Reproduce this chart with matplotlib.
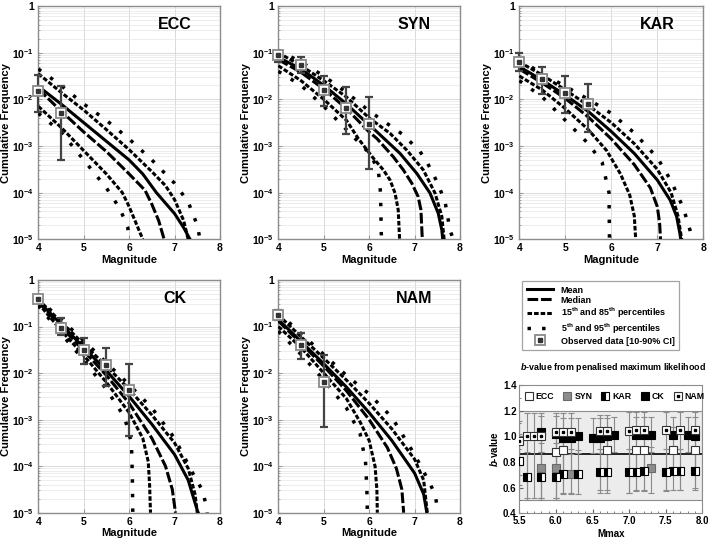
import matplotlib
matplotlib.use('Agg')
import matplotlib.pyplot as plt
from matplotlib.lines import Line2D
from matplotlib.ticker import NullFormatter, MultipleLocator
import numpy as np

plt.rcParams['font.family'] = ['Liberation Sans', 'DejaVu Sans']
plt.rcParams['font.weight'] = 'bold'
plt.rcParams['axes.labelweight'] = 'bold'
plt.rcParams['mathtext.fontset'] = 'custom'
plt.rcParams['mathtext.rm'] = 'Liberation Sans:bold'
plt.rcParams['mathtext.it'] = 'Liberation Sans:italic:bold'
plt.rcParams['mathtext.bf'] = 'Liberation Sans:bold'
plt.rcParams['mathtext.default'] = 'rm'

# curves: (magnitude, log10 cumulative frequency)
ECC_MEAN = [(4.0, -1.72), (4.5, -2.1), (5.0, -2.5), (5.5, -2.9), (6.0, -3.3), (6.3, -3.6),
            (6.6, -4.0), (7.0, -4.45), (7.2, -4.75), (7.34, -5.0)]
ECC_MEDIAN = [(4.0, -1.78), (4.5, -2.25), (5.0, -2.7), (5.5, -3.12), (6.0, -3.6), (6.35, -3.95),
              (6.5, -4.25), (6.65, -4.6), (6.77, -5.0)]
ECC_P15 = [(4.0, -2.15), (4.5, -2.6), (5.0, -3.1), (5.5, -3.6), (5.85, -4.0), (6.0, -4.3),
           (6.15, -4.65), (6.3, -5.0)]
ECC_P85 = [(4.0, -1.45), (4.5, -1.85), (5.0, -2.23), (5.5, -2.65), (6.0, -3.08), (6.5, -3.55),
           (6.8, -3.85), (7.0, -4.15), (7.2, -4.6), (7.3, -5.0)]
ECC_P5 = [(4.0, -2.3), (4.5, -2.7), (5.0, -3.3), (5.5, -3.9), (5.8, -4.35), (5.97, -4.75), (6.0, -5.0)]
ECC_P95 = [(4.0, -1.35), (4.5, -1.7), (5.0, -2.1), (5.5, -2.45), (6.0, -2.85), (6.5, -3.3),
           (7.0, -3.8), (7.3, -4.2), (7.5, -4.7), (7.56, -5.0)]

SYN_MEAN = [(4.0, -1.1), (4.5, -1.35), (5.0, -1.7), (5.5, -2.1), (6.0, -2.55), (6.13, -2.66),
            (6.68, -3.16), (7.05, -3.59), (7.34, -4.01), (7.52, -4.44), (7.6, -4.8), (7.62, -5.0)]
SYN_MEDIAN = [(4.0, -1.15), (4.5, -1.42), (5.0, -1.78), (5.5, -2.2), (6.0, -2.7), (6.17, -2.84),
              (6.53, -3.23), (6.75, -3.51), (6.94, -3.8), (7.08, -4.09), (7.14, -4.37), (7.17, -5.0)]
SYN_P15 = [(4.0, -1.28), (4.5, -1.6), (5.0, -2.0), (5.5, -2.45), (5.76, -2.84), (6.09, -3.26),
           (6.31, -3.51), (6.46, -3.73), (6.57, -4.01), (6.64, -4.37), (6.67, -5.0)]
SYN_P85 = [(4.0, -1.0), (4.5, -1.28), (5.0, -1.6), (5.5, -1.95), (6.0, -2.4), (6.46, -2.73),
           (6.83, -3.09), (7.19, -3.51), (7.45, -4.01), (7.6, -4.51), (7.65, -5.0)]
SYN_P5 = [(4.0, -1.4), (4.5, -1.7), (5.0, -2.15), (5.5, -2.65), (6.0, -3.15), (6.2, -3.5),
          (6.25, -4.0), (6.27, -5.0)]
SYN_P95 = [(4.0, -0.95), (4.5, -1.2), (5.0, -1.5), (5.5, -1.85), (6.0, -2.25), (6.75, -2.76),
           (7.12, -3.12), (7.27, -3.34), (7.49, -3.76), (7.67, -4.19), (7.78, -4.8), (7.85, -5.0)]

KAR_MEAN = [(4.0, -1.3), (4.5, -1.59), (5.0, -1.91), (5.5, -2.26), (6.0, -2.69), (6.5, -3.16),
            (7.0, -3.73), (7.28, -4.16), (7.42, -4.51), (7.49, -4.87), (7.51, -5.0)]
KAR_MEDIAN = [(4.0, -1.35), (4.5, -1.65), (5.0, -1.98), (5.5, -2.38), (6.0, -2.85), (6.5, -3.4),
              (6.85, -3.9), (7.0, -4.3), (7.05, -4.65), (7.07, -5.0)]
KAR_P15 = [(4.0, -1.5), (4.5, -1.8), (5.0, -2.2), (5.5, -2.65), (5.9, -3.1), (6.2, -3.6),
           (6.4, -4.05), (6.5, -4.5), (6.53, -5.0)]
KAR_P85 = [(4.0, -1.2), (4.5, -1.48), (5.0, -1.8), (5.5, -2.13), (6.0, -2.5), (6.5, -2.95),
           (7.0, -3.5), (7.3, -4.0), (7.45, -4.5), (7.53, -5.0)]
KAR_P5 = [(4.0, -1.6), (4.5, -1.95), (5.0, -2.45), (5.5, -2.95), (5.8, -3.35), (5.95, -4.0), (5.96, -5.0)]
KAR_P95 = [(4.0, -1.15), (4.5, -1.45), (5.0, -1.72), (5.5, -2.0), (6.0, -2.3), (6.5, -2.72),
           (7.0, -3.25), (7.3, -3.75), (7.57, -4.34), (7.71, -4.8), (7.75, -5.0)]

CK_MEAN = [(4.0, -0.45), (4.5, -0.95), (5.0, -1.45), (5.5, -1.95), (6.0, -2.5), (6.5, -3.1),
           (7.0, -3.75), (7.3, -4.3), (7.5, -4.95), (7.52, -5.0)]
CK_MEDIAN = [(4.0, -0.47), (4.5, -1.0), (5.0, -1.52), (5.5, -2.05), (6.0, -2.65), (6.5, -3.4),
             (6.8, -4.0), (6.95, -4.5), (7.02, -5.0)]
CK_P15 = [(4.0, -0.5), (4.5, -1.08), (5.0, -1.62), (5.5, -2.2), (6.0, -2.85), (6.3, -3.4),
          (6.42, -3.9), (6.45, -4.4), (6.47, -5.0)]
CK_P85 = [(4.0, -0.42), (4.5, -0.9), (5.0, -1.38), (5.5, -1.85), (6.0, -2.35), (6.5, -2.9),
          (7.0, -3.5), (7.3, -4.05), (7.45, -4.6), (7.5, -5.0)]
CK_P5 = [(4.0, -0.55), (4.5, -1.15), (5.0, -1.72), (5.5, -2.35), (5.9, -2.95), (6.05, -3.5),
         (6.07, -4.2), (6.08, -5.0)]
CK_P95 = [(4.0, -0.4), (4.5, -0.85), (5.0, -1.3), (5.5, -1.78), (6.0, -2.25), (6.5, -2.75),
          (7.0, -3.4), (7.4, -4.15), (7.63, -4.55), (7.72, -5.0)]

NAM_MEAN = [(4.0, -0.85), (4.5, -1.32), (5.0, -1.8), (5.5, -2.3), (6.0, -2.85), (6.5, -3.45),
            (7.0, -4.15), (7.2, -4.6), (7.27, -5.0)]
NAM_MEDIAN = [(4.0, -0.88), (4.5, -1.36), (5.0, -1.85), (5.5, -2.38), (6.0, -3.0), (6.4, -3.6),
              (6.6, -4.05), (6.72, -4.5), (6.76, -5.0)]
NAM_P15 = [(4.0, -1.0), (4.5, -1.45), (5.0, -2.0), (5.5, -2.55), (5.8, -3.05), (6.0, -3.45),
           (6.13, -4.0), (6.17, -4.5), (6.18, -5.0)]
NAM_P85 = [(4.0, -0.75), (4.5, -1.22), (5.0, -1.68), (5.5, -2.15), (6.0, -2.65), (6.5, -3.2),
           (7.0, -3.85), (7.2, -4.3), (7.28, -5.0)]
NAM_P5 = [(4.0, -1.1), (4.5, -1.6), (5.0, -2.15), (5.5, -2.75), (5.8, -3.3), (5.92, -3.9),
          (5.95, -4.5), (5.96, -5.0)]
NAM_P95 = [(4.0, -0.7), (4.5, -1.15), (5.0, -1.6), (5.5, -2.05), (6.0, -2.45), (6.5, -2.95),
           (7.0, -3.75), (7.3, -4.3), (7.45, -4.6), (7.52, -5.0)]

# observed data with 10-90% interval
ECC_OBS_M = [4.0, 4.5]
ECC_OBS = [1.5e-2, 5.0e-3]
ECC_OBS_LO = [5.3e-3, 5.0e-4]
ECC_OBS_HI = [3.4e-2, 1.9e-2]

SYN_OBS_M = [4.0, 4.5, 5.0, 5.5, 6.0]
SYN_OBS = [9.0e-2, 5.5e-2, 1.6e-2, 6.6e-3, 3.0e-3]
SYN_OBS_LO = [6.2e-2, 3.6e-2, 7.2e-3, 1.8e-3, 3.2e-4]
SYN_OBS_HI = [1.1e-1, 8.2e-2, 3.2e-2, 1.8e-2, 1.1e-2]

KAR_OBS_M = [4.0, 4.5, 5.0, 5.5]
KAR_OBS = [6.4e-2, 2.7e-2, 1.4e-2, 7.8e-3]
KAR_OBS_LO = [4.1e-2, 1.3e-2, 5.0e-3, 2.0e-3]
KAR_OBS_HI = [9.7e-2, 5.0e-2, 3.1e-2, 2.1e-2]

CK_OBS_M = [4.0, 4.5, 5.0, 5.5, 6.0]
CK_OBS = [0.4, 9.5e-2, 3.1e-2, 1.5e-2, 4.3e-3]
CK_OBS_LO = [0.35, 6.6e-2, 1.6e-2, 5.3e-3, 4.5e-4]
CK_OBS_HI = [0.45, 0.15, 5.6e-2, 3.4e-2, 1.6e-2]

NAM_OBS_M = [4.0, 4.5, 5.0]
NAM_OBS = [0.175, 4.0e-2, 6.3e-3]
NAM_OBS_LO = [0.14, 2.0e-2, 6.8e-4]
NAM_OBS_HI = [0.23, 7.4e-2, 2.5e-2]

# b-value panel
B_ECC_M = [6.0, 6.1, 6.7, 7.1, 7.2, 7.6, 7.9]
B_ECC = [0.88, 0.89, 0.89, 0.89, 0.89, 0.89, 0.89]
B_ECC_LO = [0.72, 0.72, 0.72, 0.72, 0.72, 0.72, 0.72]
B_ECC_HI = [1.06, 1.06, 1.07, 1.07, 1.07, 1.07, 1.07]

B_SYN_M = [5.8, 6.0, 6.2, 7.3]
B_SYN = [0.75, 0.75, 0.71, 0.75]
B_SYN_LO = [0.50, 0.50, 0.55, 0.56]
B_SYN_HI = [0.95, 0.95, 0.90, 0.92]

B_KAR_M = [5.5, 5.6, 5.8, 6.0, 6.1, 6.3, 6.6, 6.7, 7.0, 7.1, 7.2, 7.5, 7.6, 7.7, 7.9]
B_KAR = [0.81, 0.68, 0.68, 0.68, 0.71, 0.71, 0.72, 0.72, 0.72, 0.72, 0.73, 0.72, 0.73, 0.73, 0.73]
B_KAR_LO = [0.62, 0.50, 0.52, 0.52, 0.55, 0.55, 0.56, 0.56, 0.56, 0.57, 0.57, 0.57, 0.58, 0.58, 0.58]
B_KAR_HI = [1.02, 0.88, 0.88, 0.88, 0.89, 0.89, 0.9, 0.9, 0.9, 0.9, 0.9, 0.9, 0.9, 0.9, 0.9]

B_CK_M = [5.8, 6.0, 6.1, 6.2, 6.3, 6.5, 6.6, 6.7, 6.8, 7.1, 7.2, 7.3, 7.6, 7.8, 7.9]
B_CK = [1.03, 1.02, 0.99, 0.99, 1.0, 0.99, 0.99, 1.0, 1.01, 1.01, 1.01, 1.01, 1.01, 1.01, 1.0]
B_CK_LO = [0.88, 0.87, 0.86, 0.86, 0.87, 0.87, 0.87, 0.88, 0.88, 0.88, 0.88, 0.88, 0.88, 0.88, 0.88]
B_CK_HI = [1.16, 1.16, 1.14, 1.14, 1.14, 1.14, 1.14, 1.14, 1.15, 1.15, 1.15, 1.15, 1.15, 1.15, 1.15]

B_NAM_M = [5.5, 5.6, 5.7, 5.8, 6.0, 6.1, 6.2, 6.6, 6.7, 7.0, 7.1, 7.2, 7.5, 7.7, 7.9]
B_NAM = [0.96, 1.0, 1.0, 1.0, 1.03, 1.03, 1.03, 1.04, 1.04, 1.04, 1.05, 1.05, 1.05, 1.05, 1.05]
B_NAM_LO = [0.70, 0.52, 0.52, 0.52, 0.52, 0.56, 0.56, 0.58, 0.58, 0.56, 0.58, 0.58, 0.58, 0.58, 0.60]
B_NAM_HI = [1.12, 1.18, 1.18, 1.18, 1.18, 1.18, 1.18, 1.17, 1.17, 1.19, 1.19, 1.19, 1.19, 1.19, 1.19]
B_MEAN = 0.86

W, H = 708, 546
fig = plt.figure(figsize=(W / 100, H / 100), dpi=100)


def rect(x0, y0, x1, y1):
    # pixel box -> figure fraction
    return [x0 / W, 1 - y1 / H, (x1 - x0) / W, (y1 - y0) / H]


def bold_ticks(ax):
    for t in ax.get_xticklabels() + ax.get_yticklabels():
        t.set_fontweight('bold')


STYLES = {
    'mean': dict(ls='-', lw=2.2),
    'median': dict(ls=(0, (3.5, 0.9)), lw=2.2),
    'p15': dict(ls=(0, (1.5, 0.65)), lw=2.2),
    'p5': dict(ls=(0, (1.0, 3.2)), lw=2.5),
}


def panel(box, name, curves, om, o, olo, ohi):
    ax = fig.add_axes(box)
    for key, pts in curves:
        m = [p[0] for p in pts]
        f = [10 ** p[1] for p in pts]
        ax.plot(m, f, color='black', zorder=3, **STYLES[key])
    o = np.array(o)
    ax.errorbar(om, o, yerr=[o - np.array(olo), np.array(ohi) - o], fmt='none',
                ecolor='#444444', elinewidth=1.6, capsize=3.2, capthick=1.6, zorder=5, clip_on=False)
    ax.plot(om, o, 's', ms=7.5, mfc='white', mec='#8a8a8a', mew=1.3, zorder=6, clip_on=False)
    ax.plot(om, o, 's', ms=3.2, color='#333333', zorder=7, clip_on=False)
    ax.set_yscale('log')
    ax.set_ylim(1e-5, 1)
    ax.set_xlim(4, 8)
    ax.set_yticks([1e-5, 1e-4, 1e-3, 1e-2, 1e-1, 1])
    ax.set_yticklabels(['10$^{-5}$', '10$^{-4}$', '10$^{-3}$', '10$^{-2}$', '10$^{-1}$', '1'])
    ax.yaxis.set_minor_formatter(NullFormatter())
    ax.set_xticks([4, 5, 6, 7, 8])
    ax.grid(True, which='major', color='#d4d4d4', lw=0.6)
    ax.grid(True, which='minor', axis='y', color='#e6e6e6', lw=0.5)
    ax.set_axisbelow(True)
    ax.tick_params(which='both', direction='in', color='#999999', labelsize=7.5, pad=3)
    ax.tick_params(which='major', length=3)
    ax.tick_params(which='minor', length=1.5)
    bold_ticks(ax)
    for s in ax.spines.values():
        s.set_color('#8c8c8c')
        s.set_linewidth(1.0)
    ax.set_xlabel('Magnitude', fontsize=8, labelpad=1)
    ax.set_ylabel('Cumulative Frequency', fontsize=8, labelpad=1)
    ax.text(0.75, 0.92, name, transform=ax.transAxes, ha='center', va='center', fontsize=11.5)


def curves(mean, median, p15, p85, p5, p95):
    return [('p5', p5), ('p5', p95), ('p15', p15), ('p15', p85), ('median', median), ('mean', mean)]


panel(rect(38.3, 6, 220, 239.3), 'ECC', curves(ECC_MEAN, ECC_MEDIAN, ECC_P15, ECC_P85, ECC_P5, ECC_P95),
      ECC_OBS_M, ECC_OBS, ECC_OBS_LO, ECC_OBS_HI)
panel(rect(278.3, 6, 460, 239.3), 'SYN', curves(SYN_MEAN, SYN_MEDIAN, SYN_P15, SYN_P85, SYN_P5, SYN_P95),
      SYN_OBS_M, SYN_OBS, SYN_OBS_LO, SYN_OBS_HI)
panel(rect(519.3, 6, 703.3, 239.3), 'KAR', curves(KAR_MEAN, KAR_MEDIAN, KAR_P15, KAR_P85, KAR_P5, KAR_P95),
      KAR_OBS_M, KAR_OBS, KAR_OBS_LO, KAR_OBS_HI)
panel(rect(38.3, 280, 220, 512.7), 'CK', curves(CK_MEAN, CK_MEDIAN, CK_P15, CK_P85, CK_P5, CK_P95),
      CK_OBS_M, CK_OBS, CK_OBS_LO, CK_OBS_HI)
panel(rect(278.3, 280, 460, 512.7), 'NAM', curves(NAM_MEAN, NAM_MEDIAN, NAM_P15, NAM_P85, NAM_P5, NAM_P95),
      NAM_OBS_M, NAM_OBS, NAM_OBS_LO, NAM_OBS_HI)

# legend for the frequency panels
obs_handle = (Line2D([], [], marker='s', ls='none', ms=7.5, mfc='white', mec='#8a8a8a', mew=1.3),
              Line2D([], [], marker='s', ls='none', ms=3.2, color='#333333'))
handles = [Line2D([], [], color='black', **STYLES['mean']),
           Line2D([], [], color='black', **STYLES['median']),
           Line2D([], [], color='black', **STYLES['p15']),
           Line2D([], [], color='black', **STYLES['p5']),
           obs_handle]
labels = ['Mean', 'Median',
          '15$^{\\mathregular{th}}$ and 85$^{\\mathregular{th}}$ percentiles',
          '5$^{\\mathregular{th}}$ and 95$^{\\mathregular{th}}$ percentiles',
          'Observed data [10-90% CI]']
leg = fig.legend(handles, labels, loc='upper left', bbox_to_anchor=(522 / W, 1 - 281 / H),
                 fontsize=6.5, frameon=True, fancybox=False, edgecolor='#8c8c8c',
                 handlelength=2.9, handletextpad=0.9, labelspacing=0.12, borderpad=0.5,
                 borderaxespad=0)
leg.get_frame().set_linewidth(0.9)

# b-value panel
fig.text(613 / W, 1 - 367 / H, '$\\mathit{b}$-value from penalised maximum likelihood',
         ha='center', va='center', fontsize=6.4)
bx = fig.add_axes(rect(519.3, 385, 702.3, 513.3))
bx.axhspan(0.5, 1.2, facecolor='#ececec', edgecolor='#8c8c8c', lw=0.8, zorder=0)
bx.axhline(B_MEAN, color='black', lw=1.2, zorder=2)

series = [
    (B_ECC_M, B_ECC, B_ECC_LO, B_ECC_HI, dict(mfc='white', mec='#333333'), 'ECC'),
    (B_SYN_M, B_SYN, B_SYN_LO, B_SYN_HI, dict(mfc='#8c8c8c', mec='#6a6a6a'), 'SYN'),
    (B_KAR_M, B_KAR, B_KAR_LO, B_KAR_HI, dict(mfc='black', mfcalt='white', mec='black', fillstyle='left'), 'KAR'),
    (B_CK_M, B_CK, B_CK_LO, B_CK_HI, dict(mfc='black', mec='black'), 'CK'),
    (B_NAM_M, B_NAM, B_NAM_LO, B_NAM_HI, dict(mfc='white', mec='#333333'), 'NAM'),
]
bhandles = []
for m, b, lo, hi, st, lab in series:
    b = np.array(b)
    bx.errorbar(m, b, yerr=[b - np.array(lo), np.array(hi) - b], fmt='none', ecolor='#8a8a8a',
                elinewidth=0.8, capsize=2, capthick=0.8, zorder=3)
    bx.plot(m, b, 's', ms=5.5, mew=0.8, zorder=5, **st)
    h = Line2D([], [], marker='s', ls='none', ms=5.5, mew=0.8, **st)
    if lab == 'NAM':
        bx.plot(m, b, 's', ms=1.8, color='black', zorder=6)
        h = (h, Line2D([], [], marker='s', ls='none', ms=1.8, color='black'))
    bhandles.append(h)
bx.legend(bhandles, [s[5] for s in series], loc='upper center', bbox_to_anchor=(0.52, 0.99), ncol=5,
          frameon=False, fontsize=6.3, handletextpad=0.3, columnspacing=1.0, handlelength=1.0,
          borderaxespad=0.3)
bx.set_xlim(5.5, 8.0)
bx.set_ylim(0.4, 1.4)
bx.set_xticks([5.5, 6.0, 6.5, 7.0, 7.5, 8.0])
bx.set_xticklabels(['5.5', '6.0', '6.5', '7.0', '7.5', '8.0'])
bx.set_yticks([0.4, 0.6, 0.8, 1.0, 1.2, 1.4])
bx.set_yticklabels(['0.4', '0.6', '0.8', '1.0', '1.2', '1.4'])
bx.xaxis.set_minor_locator(MultipleLocator(0.1))
bx.yaxis.set_minor_locator(MultipleLocator(0.1))
bx.tick_params(which='both', direction='in', color='#666666', labelsize=7, pad=2)
bx.tick_params(which='major', length=3)
bx.tick_params(which='minor', length=1.5)
bold_ticks(bx)
for s in bx.spines.values():
    s.set_color('#8c8c8c')
bx.set_xlabel('Mmax', fontsize=7, labelpad=2)
bx.set_ylabel('$\\mathit{b}$-value', fontsize=7, labelpad=2)

fig.savefig('out.png', dpi=100)
